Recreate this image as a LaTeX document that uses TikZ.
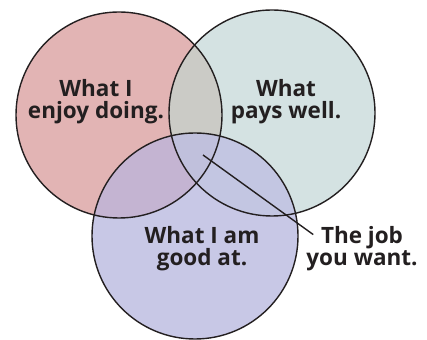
\documentclass[tikz,border=0pt]{standalone}
\usepackage{fontspec}
\setmainfont{Open Sans}
\definecolor{enjoyfill}{HTML}{E2B4B4}
\definecolor{paysfill}{HTML}{D4E2E2}
\definecolor{goodfill}{HTML}{C8C8E6}
\definecolor{enjoypays}{HTML}{CBCBC6}
\definecolor{enjoygood}{HTML}{C4B4D2}
\definecolor{paysgood}{HTML}{C3C6E2}
\definecolor{allthree}{HTML}{C0C0DC}
\definecolor{ink}{HTML}{231F20}
\tikzset{
  ring/.style={draw=ink,line width=1.4pt},
  label text/.style={font=\fontsize{22.5}{22}\selectfont\bfseries,text=ink,align=center,inner sep=1pt},
}
\begin{document}
\begin{tikzpicture}[x=1pt,y=1pt]

\newcommand\R{103};

  \useasboundingbox (0,0) rectangle (427,339);

  %% centres
  \coordinate (enjoyc) at (119,224);
  \coordinate (paysc)  at (272,226);
  \coordinate (goodc)  at (195,103);

  %% fills
  \fill[enjoyfill] (enjoyc) circle (\R);
  \fill[paysfill]  (paysc)  circle (\R);
  \fill[goodfill]  (goodc)  circle (\R);
  \begin{scope}
    \clip (enjoyc) circle (\R);
    \fill[enjoypays] (paysc) circle (\R);
    \fill[enjoygood] (goodc) circle (\R);
    \clip (paysc) circle (\R);
    \fill[allthree] (goodc) circle (\R);
  \end{scope}
  \begin{scope}
    \clip (paysc) circle (\R);
    \fill[paysgood] (goodc) circle (\R);
    \clip (enjoyc) circle (\R);
    \fill[allthree] (goodc) circle (\R);
  \end{scope}

  %% outlines
  \draw[ring] (enjoyc) circle (\R);
  \draw[ring] (paysc)  circle (\R);
  \draw[ring] (goodc)  circle (\R);

  %% labels
  \node[label text] (enjoy) at (96,237)  {What I\\enjoy doing.};
  \node[label text] (pays)  at (286,237) {What\\pays well.};
  \node[label text] (good)  at (202,90)  {What I am\\good at.};
  \node[label text] (job)   at (362,90)  {The job\\you want.};

  %% pointer
  \coordinate (core) at (203,184);
  \draw[draw=ink,line width=1.4pt] (core) -- ([xshift=8pt,yshift=-9pt]job.north west);

\end{tikzpicture}
\end{document}
